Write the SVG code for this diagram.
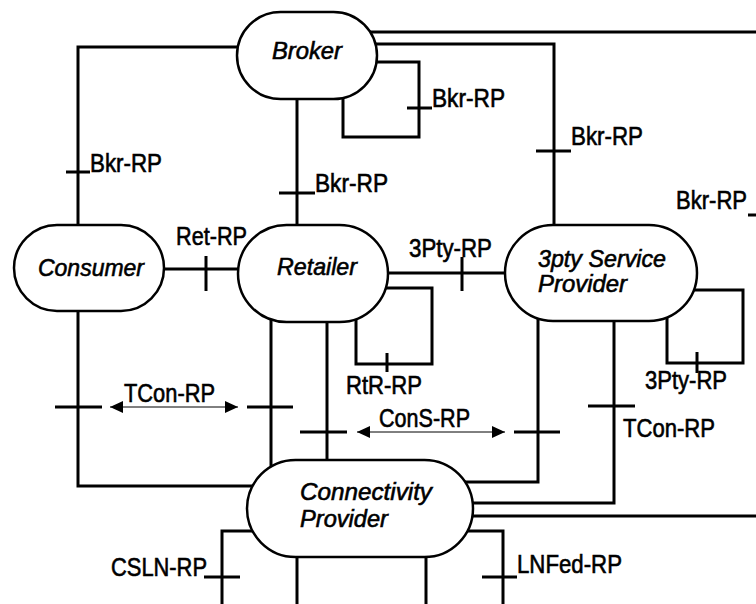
<svg xmlns="http://www.w3.org/2000/svg" width="756" height="604" viewBox="0 0 756 604">
<style>
.c{fill:none;stroke:#000;stroke-width:3}
.a{fill:none;stroke:#000;stroke-width:1}
.n{fill:#fff;stroke:#000;stroke-width:2.5}
.t{font-family:"Liberation Sans",Arial,sans-serif;font-size:25px;fill:#000;stroke:#000;stroke-width:0.6}
.nt{font-family:"Liberation Sans",Arial,sans-serif;font-size:24px;font-style:italic;fill:#000;stroke:#000;stroke-width:0.6}
</style>
<defs>
<marker id="ah" markerUnits="userSpaceOnUse" markerWidth="14" markerHeight="14" refX="13" refY="6" orient="auto-start-reverse">
<path d="M0,0 L13,6 L0,12 z" fill="#000"/>
</marker>
</defs>
<g id="connectors">
<path class="c" d="M260,47 H78 V240"/><path class="c" d="M66,172 H90"/>
<path class="c" d="M297,80 V240"/><path class="c" d="M279,193 H315"/>
<path class="c" d="M343,90 V137 H419 V62 H365"/><path class="c" d="M407,108 H432"/>
<path class="c" d="M360,44 H554 V240"/><path class="c" d="M536,151 H571"/>
<path class="c" d="M360,32 H760 V516"/><path class="c" d="M748,215 H770"/>
<path class="c" d="M150,269 H250"/><path class="c" d="M206,256 V291"/>
<path class="c" d="M370,273 H520"/><path class="c" d="M462,257 V291"/>
<path class="c" d="M356,310 V364 H432 V288 H380"/><path class="c" d="M387,353 V372"/>
<path class="c" d="M667,310 V363 H743 V290 H685"/><path class="c" d="M697,352 V373"/>
<path class="c" d="M78,300 V486 H260"/><path class="c" d="M55,407 H102"/>
<path class="c" d="M271,310 V480"/><path class="c" d="M247,407 H293"/>
<path class="c" d="M327,310 V480"/><path class="c" d="M300,432 H347"/>
<path class="c" d="M538,310 V482 H460"/><path class="c" d="M514,432 H560"/>
<path class="c" d="M614,310 V503 H460"/><path class="c" d="M588,406 H635"/>
<path class="c" d="M460,516 H760"/>
<path class="c" d="M460,531 H503 V610"/><path class="c" d="M482,577 H517"/>
<path class="c" d="M260,531 H222 V610"/><path class="c" d="M204,577 H240"/>
<path class="c" d="M297,540 V610"/><path class="c" d="M426,540 V610"/>
<path class="a" d="M110,407 H238" marker-start="url(#ah)" marker-end="url(#ah)"/>
<path class="a" d="M357,432 H505" marker-start="url(#ah)" marker-end="url(#ah)"/>
</g>
<g id="labels">
<text class="t" x="90" y="172" textLength="72" lengthAdjust="spacingAndGlyphs">Bkr-RP</text>
<text class="t" x="315" y="192" textLength="73" lengthAdjust="spacingAndGlyphs">Bkr-RP</text>
<text class="t" x="432" y="107" textLength="73" lengthAdjust="spacingAndGlyphs">Bkr-RP</text>
<text class="t" x="571" y="145" textLength="72" lengthAdjust="spacingAndGlyphs">Bkr-RP</text>
<text class="t" x="676" y="209" textLength="71" lengthAdjust="spacingAndGlyphs">Bkr-RP</text>
<text class="t" x="176" y="245" textLength="71" lengthAdjust="spacingAndGlyphs">Ret-RP</text>
<text class="t" x="409" y="257" textLength="83" lengthAdjust="spacingAndGlyphs">3Pty-RP</text>
<text class="t" x="346" y="394" textLength="76" lengthAdjust="spacingAndGlyphs">RtR-RP</text>
<text class="t" x="645" y="389" textLength="82" lengthAdjust="spacingAndGlyphs">3Pty-RP</text>
<text class="t" x="124" y="402" textLength="91" lengthAdjust="spacingAndGlyphs">TCon-RP</text>
<text class="t" x="379" y="427" textLength="91" lengthAdjust="spacingAndGlyphs">ConS-RP</text>
<text class="t" x="623" y="437" textLength="92" lengthAdjust="spacingAndGlyphs">TCon-RP</text>
<text class="t" x="111" y="576" textLength="96" lengthAdjust="spacingAndGlyphs">CSLN-RP</text>
<text class="t" x="517" y="573" textLength="105" lengthAdjust="spacingAndGlyphs">LNFed-RP</text>
</g>
<g id="broker">
<rect class="n" x="237" y="12" width="140" height="87" rx="43.5"/>
<text class="nt" x="272" y="59" textLength="70" lengthAdjust="spacingAndGlyphs">Broker</text>
</g>
<g id="consumer">
<rect class="n" x="14" y="225" width="150" height="86" rx="43"/>
<text class="nt" x="38" y="276" textLength="106" lengthAdjust="spacingAndGlyphs">Consumer</text>
</g>
<g id="retailer">
<rect class="n" x="238" y="225" width="150" height="97" rx="48.5"/>
<text class="nt" x="277" y="275" textLength="80" lengthAdjust="spacingAndGlyphs">Retailer</text>
</g>
<g id="third-party">
<rect class="n" x="505" y="225" width="192" height="96" rx="48"/>
<text class="nt" x="538" y="267" textLength="128" lengthAdjust="spacingAndGlyphs">3pty Service</text>
<text class="nt" x="538" y="292" textLength="89" lengthAdjust="spacingAndGlyphs">Provider</text>
</g>
<g id="connectivity">
<rect class="n" x="247" y="460" width="226" height="97" rx="48.5"/>
<text class="nt" x="300" y="500" textLength="132" lengthAdjust="spacingAndGlyphs">Connectivity</text>
<text class="nt" x="300" y="527" textLength="88" lengthAdjust="spacingAndGlyphs">Provider</text>
</g>
</svg>
